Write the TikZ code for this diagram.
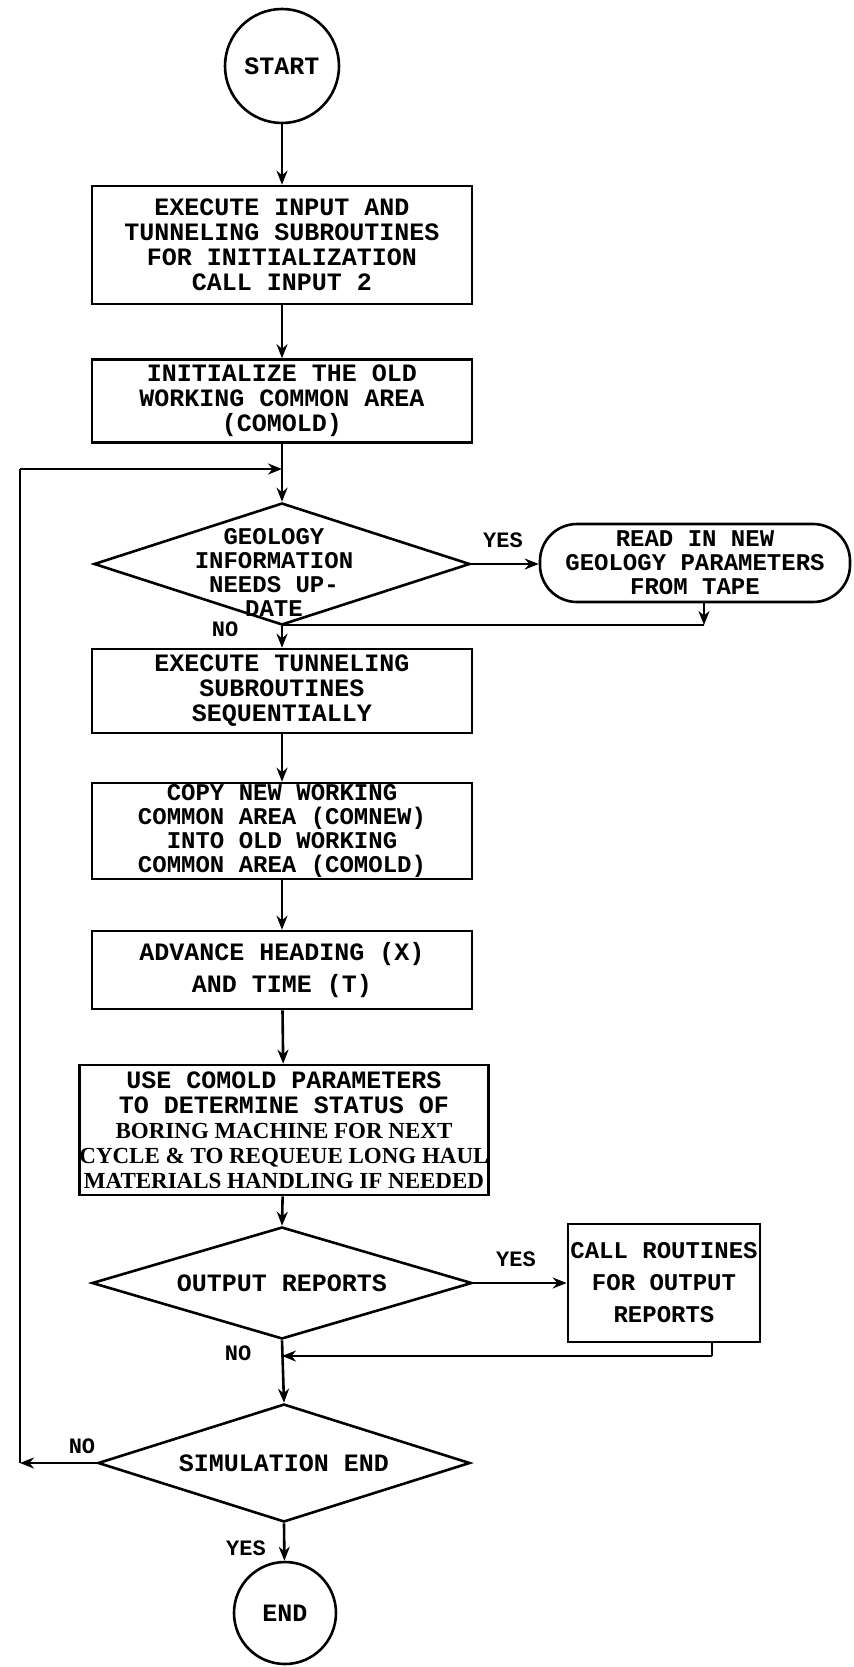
\documentclass[tikz,border=0pt]{standalone}
\usepackage{fontspec}
\setmainfont{Liberation Mono}
\newfontfamily\propfont{Liberation Serif}
\usetikzlibrary{shapes.geometric,arrows.meta}
\begin{document}
\begin{tikzpicture}[x=1bp,y=-1bp,
  every node/.style={font=\fontsize{25bp}{25bp}\selectfont\bfseries, inner sep=0pt, align=center},
  line/.style={line width=2.6bp},
  arr/.style={line width=2.6bp, -{Stealth[length=14bp,width=11bp]}},
  box/.style={draw, line width=2.6bp, rectangle, minimum width=380bp},
  dia/.style={draw, line width=2.6bp, diamond, inner sep=0pt},
  term/.style={draw, line width=2.6bp, circle},
  tight/.style={font=\fontsize{24bp}{24bp}\selectfont\bfseries},
  lbl/.style={font=\fontsize{22bp}{22bp}\selectfont\bfseries},
  prop/.style={font=\propfont\fontsize{23bp}{25bp}\selectfont\bfseries}
]
\useasboundingbox (0,0) rectangle (853,1667);

\node[term, minimum size=114bp] (start) at (282,66) {START};

\node[box, minimum height=118bp] (b1) at (282,245)
  {EXECUTE INPUT AND\\TUNNELING SUBROUTINES\\FOR INITIALIZATION\\CALL INPUT 2};
\node[box, minimum height=83bp] (b2) at (282,401)
  {INITIALIZE THE OLD\\WORKING COMMON AREA\\(COMOLD)};

\coordinate (j1) at (282,469);

\node[dia, minimum width=376bp, minimum height=122bp] (d1) at (282,564) {};
\node[tight] (t1) at (274,572) {GEOLOGY\\INFORMATION\\NEEDS UP-\\DATE};

\node[draw, line width=2.6bp, rounded corners=37bp, minimum width=310bp, minimum height=78bp, tight] (rb) at (695,563)
  {READ IN NEW\\GEOLOGY PARAMETERS\\FROM TAPE};

\coordinate (c1) at (704,625);
\coordinate (m1) at (282,625);

\node[box, minimum height=84bp] (b3) at (282,691)
  {EXECUTE TUNNELING\\SUBROUTINES\\SEQUENTIALLY};
\node[box, minimum height=96bp, tight] (b4) at (282,831)
  {COPY NEW WORKING\\COMMON AREA (COMNEW)\\INTO OLD WORKING\\COMMON AREA (COMOLD)};
\node[box, minimum height=78bp] (b5) at (282,970)
  {ADVANCE HEADING (X)\\[7bp]AND TIME (T)};
\node[box, minimum width=382bp, minimum height=130bp] (b6) at (284,1130)
  {USE COMOLD PARAMETERS\\TO DETERMINE STATUS OF\\
   {\propfont\fontsize{23bp}{25bp}\selectfont BORING MACHINE FOR NEXT}\\
   {\propfont\fontsize{23bp}{25bp}\selectfont CYCLE \& TO REQUEUE LONG HAUL}\\
   {\propfont\fontsize{23bp}{25bp}\selectfont MATERIALS HANDLING IF NEEDED}};

\node[dia, minimum width=380bp, minimum height=112bp] (d2) at (282,1283) {};
\node (t2) at (282,1283) {OUTPUT REPORTS};

\node[draw, line width=2.6bp, rectangle, minimum width=192bp, minimum height=118bp, tight] (b7) at (664,1283)
  {CALL ROUTINES\\[8bp]FOR OUTPUT\\[8bp]REPORTS};

\coordinate (c2) at (712,1356);
\coordinate (m2) at (282,1356);

\node[dia, minimum width=372bp, minimum height=118bp] (d3) at (284,1463) {};
\node (t3) at (284,1463) {SIMULATION END};

\coordinate (cl) at (20,1463);
\coordinate (cu) at (20,469);

\node[term, minimum size=102bp] (end) at (285,1613) {END};

% labels
\node[lbl] (yes1) at (503,540) {YES};
\node[lbl] (no1) at (225,629) {NO};
\node[lbl] (yes2) at (516,1259) {YES};
\node[lbl] (no2) at (238,1353) {NO};
\node[lbl] (no3) at (82,1446) {NO};
\node[lbl] (yes3) at (246,1548) {YES};

% connectors
\draw[arr] (start) -- (b1);
\draw[arr] (b1) -- (b2);
\draw[line] (b2) -- (j1);
\draw[arr] (j1) -- (d1.north);
\draw[arr] (d1.east) -- (d1.east -| rb.west);
\draw[arr] (rb.south -| c1) -- (c1);
\draw[line] (c1) -- (m1);
\draw[arr] (d1.south) -- (b3.north);
\draw[arr] (b3) -- (b4);
\draw[arr] (b4) -- (b5);
\draw[arr] (b5) -- (b6);
\draw[arr] (b6) -- (d2.north);
\draw[arr] (d2.east) -- (b7.west);
\draw[line] (b7.south -| c2) -- (c2);
\draw[arr] (c2) -- (m2);
\draw[arr] (d2.south) -- (d3.north);
\draw[arr] (d3.west) -- (cl);
\draw[line] (cl) -- (cu);
\draw[arr] (cu) -- (j1);
\draw[arr] (d3.south) -- (end);
\end{tikzpicture}
\end{document}
